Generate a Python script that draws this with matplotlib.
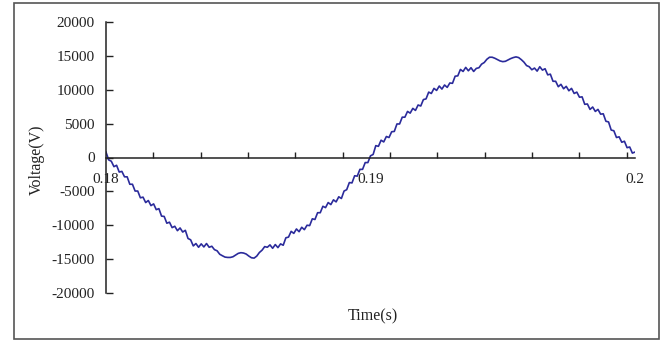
import numpy as np
import matplotlib
matplotlib.use("Agg")
import matplotlib.pyplot as plt
from matplotlib.patches import Rectangle

# Sampled inverter output voltage, 0.1 ms sampling from 0.18 s to 0.20 s
t_start, t_stop = 0.18, 0.20
voltage = [
    800, -350, -550, -1350, -1150, -2150, -2050, -2850, -2850, -3950,
    -3950, -4950, -4950, -5950, -5850, -6650, -6350, -7100, -6850, -7700,
    -7550, -8650, -8700, -9700, -9550, -10350, -10150, -10800, -10400, -11000,
    -10750, -11950, -12150, -13050, -12700, -13250, -12750, -13200, -12700, -13250,
    -13100, -13600, -13770, -14280, -14500, -14700, -14750, -14750, -14650, -14400,
    -14150, -14050, -14100, -14250, -14550, -14800, -14850, -14550, -14020, -13680,
    -13150, -13250, -12900, -13400, -12850, -13300, -12750, -12950, -11850, -11750,
    -10900, -11200, -10550, -10950, -10300, -10650, -10000, -10050, -9050, -9150,
    -8150, -8150, -7200, -7400, -6650, -6950, -6250, -6550, -5800, -6050,
    -4950, -4750, -3700, -3750, -2700, -2750, -1750, -1750, -750, -750,
    250, 450, 1750, 1650, 2550, 2300, 3100, 2950, 3800, 3850,
    4950, 4950, 5950, 5950, 6800, 6550, 7250, 6950, 7750, 7600,
    8550, 8650, 9650, 9450, 10200, 9900, 10550, 10100, 10700, 10350,
    11000, 10950, 12000, 12050, 13000, 12700, 13300, 12800, 13250, 12700,
    13150, 13250, 13780, 14020, 14500, 14800, 14800, 14650, 14450, 14250,
    14150, 14200, 14400, 14600, 14750, 14850, 14750, 14450, 14080, 13570,
    13400, 12950, 13200, 12750, 13400, 12900, 13100, 12200, 12300, 11250,
    11250, 10450, 10800, 10150, 10500, 9850, 10200, 9450, 9650, 8900,
    8950, 7850, 7900, 7100, 7450, 6800, 7100, 6400, 6450, 5350,
    5250, 4050, 3950, 2950, 3050, 2250, 2400, 1450, 1550, 650,
    800,
]
time = np.linspace(t_start, t_stop, len(voltage))

x_labels = [0.18, 0.19, 0.2]
x_label_text = ["0.18", "0.19", "0.2"]
x_tick_step = 0.00179
y_ticks = [-20000, -15000, -10000, -5000, 0, 5000, 10000, 15000, 20000]

serif = ["Liberation Serif", "DejaVu Serif"]
ink = "#222222"

fig = plt.figure(figsize=(6.63, 3.41), dpi=100)
ax = fig.add_axes([106 / 663, 1 - 293 / 341, 529 / 663, 271 / 341])

ax.plot(time, voltage, color="#2b2b9b", lw=1.2, solid_joinstyle="round")

ax.set_xlim(t_start, t_stop)
ax.set_ylim(-20000, 20000)

for side in ("top", "right"):
    ax.spines[side].set_visible(False)
ax.spines["left"].set_color(ink)
ax.spines["left"].set_linewidth(1.1)
ax.spines["bottom"].set_position(("data", 0))
ax.spines["bottom"].set_color(ink)
ax.spines["bottom"].set_linewidth(1.1)

ax.set_yticks(y_ticks)
ax.set_yticklabels([str(v) for v in y_ticks])
ax.tick_params(axis="y", direction="in", length=5, width=1.0, color=ink,
               pad=8, labelsize=11, labelcolor=ink)

ax.set_xticks(x_labels)
ax.set_xticklabels(x_label_text)
ax.set_xticks(np.arange(t_start, t_stop - 1e-5, x_tick_step), minor=True)
ax.tick_params(axis="x", which="major", length=0, pad=11,
               labelsize=11, labelcolor=ink)
ax.tick_params(axis="x", which="minor", direction="in", length=4,
               width=1.0, color=ink)

for lab in ax.get_xticklabels() + ax.get_yticklabels():
    lab.set_family(serif)

fig.text(37 / 663, 1 - 160 / 341, "Voltage(V)", rotation=90, ha="center",
         va="center", family=serif, fontsize=11.5, color=ink)
fig.text(373 / 663, 1 - 316 / 341, "Time(s)", ha="center", va="center",
         family=serif, fontsize=11.5, color=ink)

fig.patches.append(Rectangle((13.5 / 663, 1 - 339 / 341), 645 / 663, 336.5 / 341,
                             transform=fig.transFigure, fill=False,
                             edgecolor="#555555", lw=1.2))

fig.savefig("out.png", dpi=100)
